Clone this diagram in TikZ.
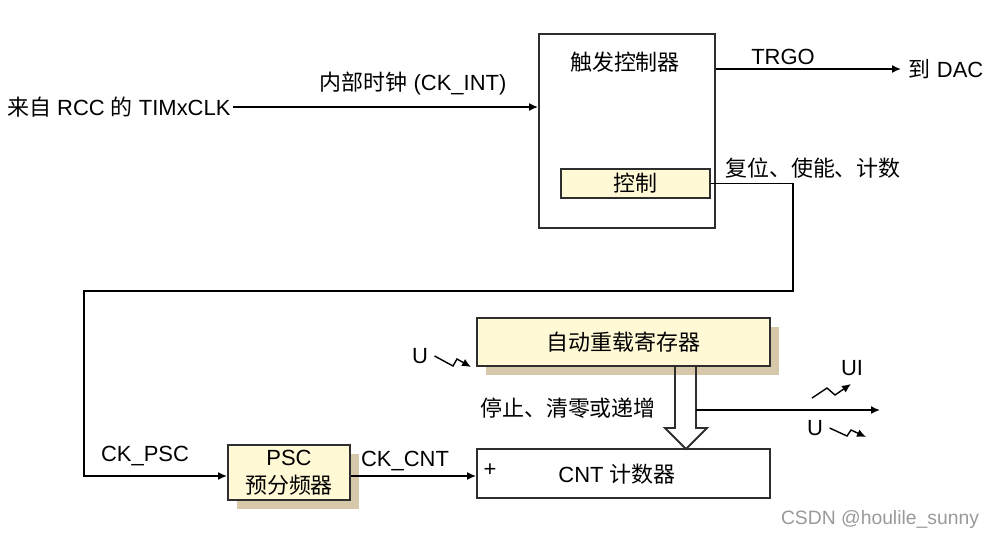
\documentclass[tikz,border=0pt]{standalone}
\usepackage{fontspec}
\setmainfont{Liberation Sans}
\newfontfamily\cjk{Noto Sans CJK SC}
\usetikzlibrary{arrows.meta,shadows}

\definecolor{regfill}{HTML}{FFF9D5}
\definecolor{regshadow}{HTML}{D6C8A8}
\definecolor{edge}{HTML}{2E2E2E}

\tikzset{
  box/.style={draw=edge, line width=1.1pt, inner sep=0pt},
  reg/.style={box, fill=regfill,
    drop shadow={shadow xshift=0.18cm, shadow yshift=-0.18cm, fill=regshadow, opacity=1}},
}

\begin{document}
\begin{tikzpicture}[x=0.02cm, y=-0.02cm, >={Latex[length=1.8mm,width=1.6mm]},
    font=\fontsize{12.5}{15}\selectfont, line width=0.9pt]
  \useasboundingbox (0,0) rectangle (997,538);
  % trigger controller
  \node[box, minimum width=3.52cm, minimum height=3.88cm] (trig) at (627,131) {};
  \node (trigname) at (625,62) {\cjk 触发控制器};
  \node[box, fill=regfill, minimum width=2.98cm, minimum height=0.58cm] (ctrl) at (635.5,183.5) {\cjk 控制};
  % clock input
  \node[anchor=east, inner sep=1pt] (rcc) at (233,107) {{\cjk 来自} RCC {\cjk 的} TIMxCLK};
  \node (ckint) at (413,84) {{\cjk 内部时钟} (CK\_INT)};
  \draw[->] (rcc.east) -- (rcc.east -| trig.west);
  % trgo
  \node[anchor=west, inner sep=4pt] (dac) at (901,69) {{\cjk 到} DAC};
  \node (trgo) at (783,57) {TRGO};
  \draw[->] (dac.west -| trig.east) -- (dac.west);
  \node (rst) at (813,168) {\cjk 复位、使能、计数};
  % prescaler and counter
  \node[reg, minimum width=2.44cm, minimum height=1.1cm, align=center] (psc) at (289,472.5)
    {PSC\\[1pt]{\cjk 预分频器}};
  \node[box, minimum width=5.86cm, minimum height=0.98cm] (cnt) at (623.5,473.5) {};
  \node (cntname) at (617,474) {CNT {\cjk 计数器}};
  \node (plus) at (490,470) {+};
  \coordinate (turn) at (793,291);
  \coordinate (bend) at (84,291);
  \draw[->] (ctrl.east) -| (turn) -- (bend) |- ([yshift=-0.07cm]psc.west);
  \node (ckpsc) at (145,456) {CK\_PSC};
  \draw[->] ([yshift=-0.07cm]psc.east) -- ([yshift=-0.07cm]psc.east -| cnt.west);
  \node (ckcnt) at (405,461) {CK\_CNT};
  % auto-reload register
  \node[reg, minimum width=5.86cm, minimum height=0.96cm] (reload) at (623.5,342) {\cjk 自动重载寄存器};
  \draw[line width=1.1pt, draw=edge] (675,366) -- (675,428) -- (665,428) -- (686,449)
    -- (707,428) -- (696,428) -- (696,366);
  \node (stop) at (568,408) {\cjk 停止、清零或递增};
  \coordinate (uout) at (880,410);
  \draw[->] (696,410) -- (uout);
  % update events
  \node (uin) at (420,356) {U};
  \draw[->, line width=0.8pt] (uin.east) -- (453,366) -- (457,359) -- (471,367);
  \node (ui) at (852,368) {UI};
  \draw[->, line width=0.8pt] (812,398) -- (827,388) -- (835,395) -- (851,384);
  \node (uo) at (815,428) {U};
  \draw[->, line width=0.8pt] (uo.east) -- (847,436) -- (851,430) -- (866,437);
  \node[text=gray!80, font=\fontsize{11}{13}\selectfont] (mark) at (880,519) {CSDN @houlile\_sunny};
\end{tikzpicture}
\end{document}
